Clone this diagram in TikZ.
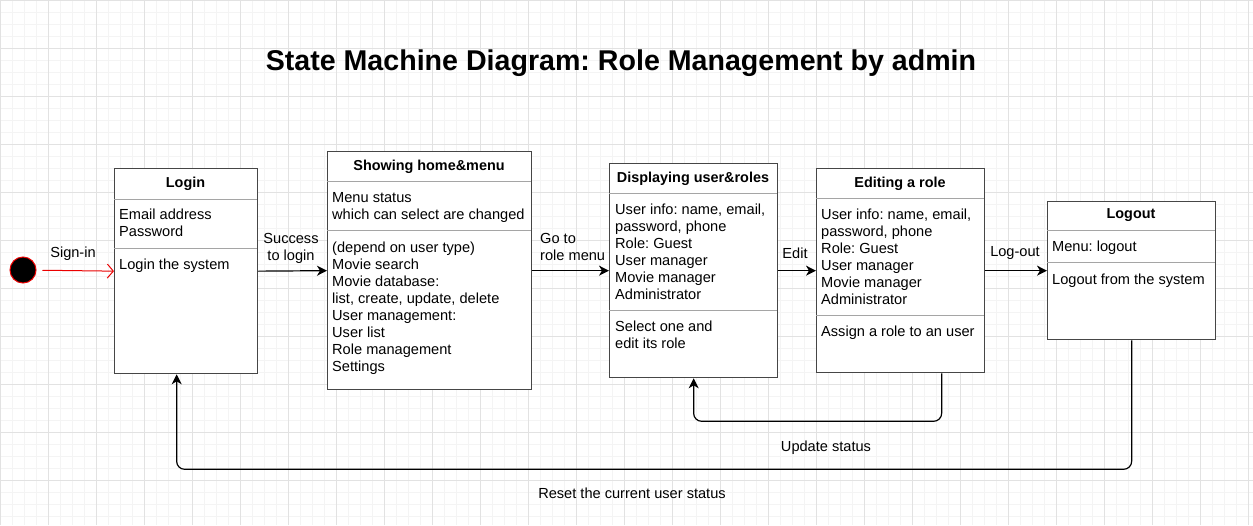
\documentclass[tikz,border=0pt]{standalone}
\usepackage{fontspec}
\setmainfont{Liberation Sans}
\usetikzlibrary{positioning}
\usetikzlibrary{arrows.meta}
\definecolor{boxgray}{RGB}{70,70,70}
\definecolor{linegray}{RGB}{165,165,165}
\definecolor{gridmajor}{RGB}{226,226,226}
\definecolor{gridminor}{RGB}{244,244,244}
\definecolor{signred}{RGB}{235,0,0}
\frenchspacing

\begin{document}
\begin{tikzpicture}[x=1pt,y=-1pt]
            \tikzset{statebox/.style={draw=boxgray, line width=1.3pt, fill=white, anchor=north west, inner sep=0pt}}
            \tikzset{boxhead/.style={font=\bfseries\fontsize{14.4}{17}\selectfont, anchor=base}}
            \tikzset{boxtext/.style={font=\fontsize{14.6}{17}\selectfont, align=left, anchor=north west, inner sep=0pt}}
            \tikzset{divider/.style={draw=linegray, line width=0.9pt}}
            \tikzset{trans/.style={draw=black, line width=1.2pt, -{Stealth[length=10pt,width=10pt,inset=3pt]}}}
            \tikzset{translabel/.style={font=\fontsize{14.6}{17}\selectfont, inner sep=0pt}}
            \useasboundingbox (0,0) rectangle (1253,525);
            \fill[white] (0,0) rectangle (1253,525);
            \draw[gridminor, line width=0.5pt, step=12pt] (0,0) grid (1253,525);
            \draw[gridmajor, line width=0.8pt, step=48pt] (0,0) grid (1253,525);
            \node[font=\bfseries\fontsize{28.6}{32}\selectfont, anchor=base] (title) at (621,70)
            {State Machine Diagram: Role Management by admin};
            % states
            \node[circle, fill=black, draw=signred, line width=1pt, minimum size=26pt, inner sep=0pt] (init) at (23,270) {};
            \node[statebox, minimum width=143pt, minimum height=205pt] (login) at (114,168) {};
            \node[statebox, minimum width=204pt, minimum height=238pt] (home) at (327,151) {};
            \node[statebox, minimum width=168pt, minimum height=214pt] (roles) at (609,163) {};
            \node[statebox, minimum width=168pt, minimum height=204pt] (editrole) at (816,168) {};
            \node[statebox, minimum width=168pt, minimum height=138pt] (logout) at (1047,201) {};
            \draw[divider] (114,199) -- (257,199) (114,248) -- (257,248);
            \draw[divider] (327,181) -- (531,181) (327,230) -- (531,230);
            \draw[divider] (609,193) -- (777,193) (609,310) -- (777,310);
            \draw[divider] (816,198) -- (984,198) (816,315) -- (984,315);
            \draw[divider] (1047,230) -- (1215,230) (1047,262) -- (1215,262);
            \node[boxhead] (loginhead) at (185.5,187) {Login};
            \node[boxtext] (loginfields) at (119,209) {Email address\\Password};
            \node[boxtext] (logindo) at (119,259) {Login the system};
            \node[boxhead] (homehead) at (429,170) {Showing home\&menu};
            \node[boxtext] (homestatus) at (332,192) {Menu status\\which can select are changed};
            \node[boxtext] (homemenu) at (332,242) {(depend on user type)\\Movie search\\Movie database:\\list, create, update, delete\\User management:\\User list\\Role management\\Settings};
            \node[boxhead] (roleshead) at (693,182) {Displaying user\&roles};
            \node[boxtext] (rolesinfo) at (615,204) {User info: name, email,\\password, phone\\Role: Guest\\User manager\\Movie manager\\Administrator};
            \node[boxtext] (rolesdo) at (615,321) {Select one and\\edit its role};
            \node[boxhead] (edithead) at (900,187) {Editing a role};
            \node[boxtext] (editinfo) at (821,209) {User info: name, email,\\password, phone\\Role: Guest\\User manager\\Movie manager\\Administrator};
            \node[boxtext] (editdo) at (821,326) {Assign a role to an user};
            \node[boxhead] (logouthead) at (1131,218) {Logout};
            \node[boxtext] (logoutmenu) at (1052,241) {Menu: logout};
            \node[boxtext] (logoutdo) at (1052,274) {Logout from the system};
            % transitions
            \draw[signred, line width=1pt, shorten <=6pt, -{Straight Barb[length=6pt,width=14pt]}] (init) -- (login.west);
            \draw[trans] (login.east) -- (home.west);
            \draw[trans] (home.east) -- (roles.west);
            \draw[trans] (roles.east) -- (editrole.west);
            \draw[trans] (editrole.east) -- (logout.west);
            \draw[trans, rounded corners=8pt] ([xshift=41pt]editrole.south) -- ++(0,48) -| (roles.south);
            \draw[trans, rounded corners=8pt] (logout.south) -- ++(0,129) -| ([xshift=-9.5pt]login.south);
            \node[translabel, anchor=base] (signin) at (73,257) {Sign-in};
            \node[translabel, anchor=north, align=center] (success) at (291,233) {Success\\to login};
            \node[translabel, anchor=north west, align=left] (gorole) at (540,233) {Go to\\role menu};
            \node[translabel, anchor=base] (edit) at (795,258) {Edit};
            \node[translabel, anchor=base] (logoutlabel) at (1015,256) {Log-out};
            \node[translabel, anchor=base] (update) at (826,451) {Update status};
            \node[translabel, anchor=base] (reset) at (632,498) {Reset the current user status};
        \end{tikzpicture}
\end{document}
